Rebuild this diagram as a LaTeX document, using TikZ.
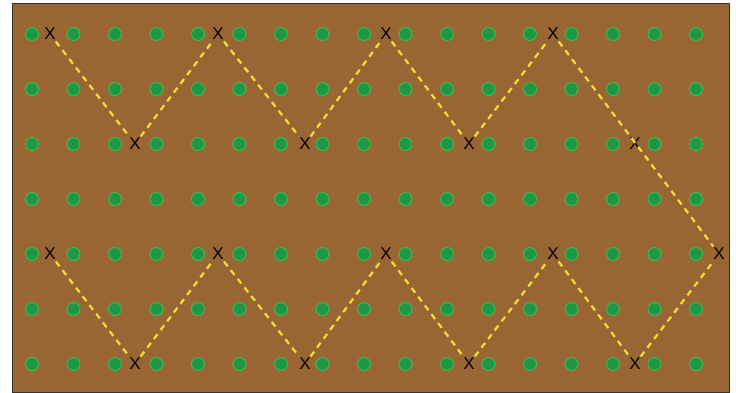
\documentclass[tikz,border=0pt]{standalone}
\usepackage{fontspec}
\setsansfont{Liberation Sans}
\definecolor{soil}{RGB}{153,102,51}
\definecolor{plant}{RGB}{28,152,68}
\definecolor{plantrim}{RGB}{72,178,82}
\definecolor{track}{RGB}{238,226,52}
\begin{document}
\begin{tikzpicture}[x=1pt,y=-1pt,
  every node/.style={inner sep=1.5pt,font=\sffamily\fontsize{17}{17}\selectfont},
  plantdot/.style={circle,fill=plant,draw=plantrim,line width=1pt,minimum size=13pt,inner sep=0pt},
  trackline/.style={draw=track,line width=2.2pt,dash pattern=on 6pt off 5pt}]
\useasboundingbox (0,0) rectangle (736,393);
\draw[fill=soil,draw=black!80,line width=1pt] (12,4) rectangle (729,392);
\foreach \i in {0,...,16}
  \foreach \j in {0,...,6}
    \node[plantdot] (p\i-\j) at (32+41.5*\i,34+55*\j) {};
\node (A1) at (50,34) {X};
\node (A2) at (218,34) {X};
\node (A3) at (386,34) {X};
\node (A4) at (553,34) {X};
\node (B1) at (135,144) {X};
\node (B2) at (305,144) {X};
\node (B3) at (469,144) {X};
\node (B4) at (635,144) {X};
\node (C1) at (50,254) {X};
\node (C2) at (218,254) {X};
\node (C3) at (386,254) {X};
\node (C4) at (553,254) {X};
\node (C5) at (719,254) {X};
\node (D1) at (135,364) {X};
\node (D2) at (305,364) {X};
\node (D3) at (469,364) {X};
\node (D4) at (635,364) {X};
\draw[trackline] (A1)--(B1)--(A2)--(B2)--(A3)--(B3)--(A4)--(C5);
\draw[trackline] (C1)--(D1)--(C2)--(D2)--(C3)--(D3)--(C4)--(D4)--(C5);
\end{tikzpicture}
\end{document}
